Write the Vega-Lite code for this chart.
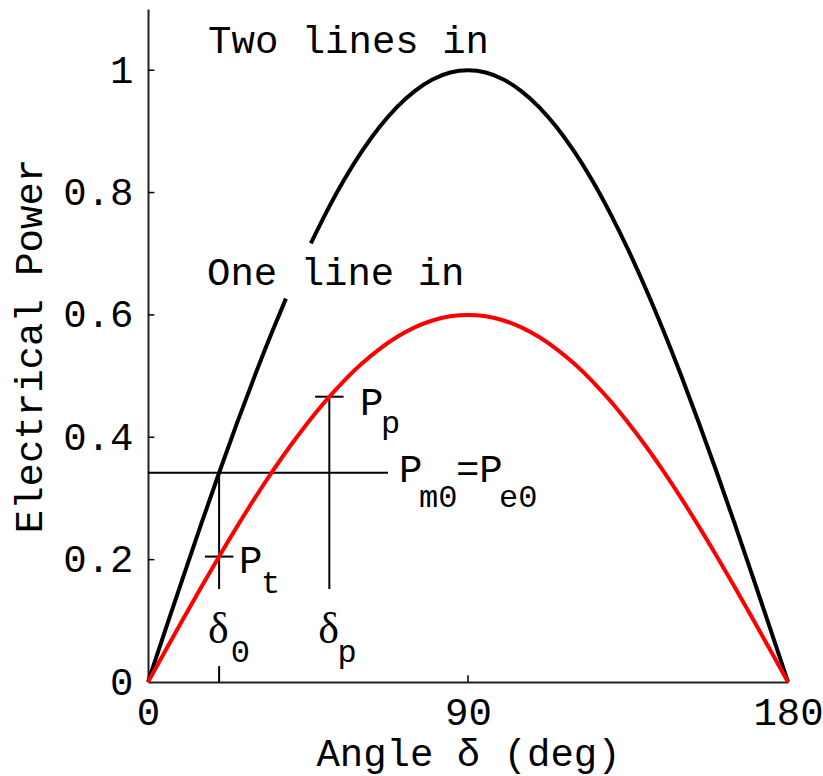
{
  "$schema": "https://vega.github.io/schema/vega-lite/v6.json",
  "width": 640,
  "height": 673,
  "autosize": {"type": "none"},
  "padding": {"left": 148, "top": 9, "right": 35, "bottom": 94},
  "background": "white",
  "config": {
    "view": {"stroke": null},
    "axis": {
      "grid": false,
      "ticks": false,
      "domainColor": "#222222",
      "domainWidth": 2,
      "labelFont": "Liberation Mono",
      "labelFontSize": 39,
      "labelColor": "black",
      "labelFlush": false,
      "titleFont": "Liberation Mono",
      "titleFontSize": 39,
      "titleFontWeight": "normal",
      "titleColor": "black"
    }
  },
  "datasets": {
    "curves": [
      {"d": 0, "p": 0, "curve": "two", "seg": "a"},
      {"d": 5, "p": 0.0872, "curve": "two", "seg": "a"},
      {"d": 10, "p": 0.1736, "curve": "two", "seg": "a"},
      {"d": 15, "p": 0.2588, "curve": "two", "seg": "a"},
      {"d": 20, "p": 0.342, "curve": "two", "seg": "a"},
      {"d": 25, "p": 0.4226, "curve": "two", "seg": "a"},
      {"d": 30, "p": 0.5, "curve": "two", "seg": "a"},
      {"d": 35, "p": 0.5736, "curve": "two", "seg": "a"},
      {"d": 38.8, "p": 0.6266, "curve": "two", "seg": "a"},
      {"d": 45.8, "p": 0.7169, "curve": "two", "seg": "b"},
      {"d": 50, "p": 0.766, "curve": "two", "seg": "b"},
      {"d": 55, "p": 0.8192, "curve": "two", "seg": "b"},
      {"d": 60, "p": 0.866, "curve": "two", "seg": "b"},
      {"d": 65, "p": 0.9063, "curve": "two", "seg": "b"},
      {"d": 70, "p": 0.9397, "curve": "two", "seg": "b"},
      {"d": 75, "p": 0.9659, "curve": "two", "seg": "b"},
      {"d": 80, "p": 0.9848, "curve": "two", "seg": "b"},
      {"d": 85, "p": 0.9962, "curve": "two", "seg": "b"},
      {"d": 90, "p": 1, "curve": "two", "seg": "b"},
      {"d": 95, "p": 0.9962, "curve": "two", "seg": "b"},
      {"d": 100, "p": 0.9848, "curve": "two", "seg": "b"},
      {"d": 105, "p": 0.9659, "curve": "two", "seg": "b"},
      {"d": 110, "p": 0.9397, "curve": "two", "seg": "b"},
      {"d": 115, "p": 0.9063, "curve": "two", "seg": "b"},
      {"d": 120, "p": 0.866, "curve": "two", "seg": "b"},
      {"d": 125, "p": 0.8192, "curve": "two", "seg": "b"},
      {"d": 130, "p": 0.766, "curve": "two", "seg": "b"},
      {"d": 135, "p": 0.7071, "curve": "two", "seg": "b"},
      {"d": 140, "p": 0.6428, "curve": "two", "seg": "b"},
      {"d": 145, "p": 0.5736, "curve": "two", "seg": "b"},
      {"d": 150, "p": 0.5, "curve": "two", "seg": "b"},
      {"d": 155, "p": 0.4226, "curve": "two", "seg": "b"},
      {"d": 160, "p": 0.342, "curve": "two", "seg": "b"},
      {"d": 165, "p": 0.2588, "curve": "two", "seg": "b"},
      {"d": 170, "p": 0.1736, "curve": "two", "seg": "b"},
      {"d": 175, "p": 0.0872, "curve": "two", "seg": "b"},
      {"d": 180, "p": 0, "curve": "two", "seg": "b"},
      {"d": 0, "p": 0, "curve": "one", "seg": "c"},
      {"d": 5, "p": 0.0523, "curve": "one", "seg": "c"},
      {"d": 10, "p": 0.1042, "curve": "one", "seg": "c"},
      {"d": 15, "p": 0.1553, "curve": "one", "seg": "c"},
      {"d": 20, "p": 0.2052, "curve": "one", "seg": "c"},
      {"d": 25, "p": 0.2536, "curve": "one", "seg": "c"},
      {"d": 30, "p": 0.3, "curve": "one", "seg": "c"},
      {"d": 35, "p": 0.3441, "curve": "one", "seg": "c"},
      {"d": 40, "p": 0.3857, "curve": "one", "seg": "c"},
      {"d": 45, "p": 0.4243, "curve": "one", "seg": "c"},
      {"d": 50, "p": 0.4596, "curve": "one", "seg": "c"},
      {"d": 55, "p": 0.4915, "curve": "one", "seg": "c"},
      {"d": 60, "p": 0.5196, "curve": "one", "seg": "c"},
      {"d": 65, "p": 0.5438, "curve": "one", "seg": "c"},
      {"d": 70, "p": 0.5638, "curve": "one", "seg": "c"},
      {"d": 75, "p": 0.5796, "curve": "one", "seg": "c"},
      {"d": 80, "p": 0.5909, "curve": "one", "seg": "c"},
      {"d": 85, "p": 0.5977, "curve": "one", "seg": "c"},
      {"d": 90, "p": 0.6, "curve": "one", "seg": "c"},
      {"d": 95, "p": 0.5977, "curve": "one", "seg": "c"},
      {"d": 100, "p": 0.5909, "curve": "one", "seg": "c"},
      {"d": 105, "p": 0.5796, "curve": "one", "seg": "c"},
      {"d": 110, "p": 0.5638, "curve": "one", "seg": "c"},
      {"d": 115, "p": 0.5438, "curve": "one", "seg": "c"},
      {"d": 120, "p": 0.5196, "curve": "one", "seg": "c"},
      {"d": 125, "p": 0.4915, "curve": "one", "seg": "c"},
      {"d": 130, "p": 0.4596, "curve": "one", "seg": "c"},
      {"d": 135, "p": 0.4243, "curve": "one", "seg": "c"},
      {"d": 140, "p": 0.3857, "curve": "one", "seg": "c"},
      {"d": 145, "p": 0.3441, "curve": "one", "seg": "c"},
      {"d": 150, "p": 0.3, "curve": "one", "seg": "c"},
      {"d": 155, "p": 0.2536, "curve": "one", "seg": "c"},
      {"d": 160, "p": 0.2052, "curve": "one", "seg": "c"},
      {"d": 165, "p": 0.1553, "curve": "one", "seg": "c"},
      {"d": 170, "p": 0.1042, "curve": "one", "seg": "c"},
      {"d": 175, "p": 0.0523, "curve": "one", "seg": "c"},
      {"d": 180, "p": 0, "curve": "one", "seg": "c"}
    ],
    "guides": [
      {"x1": 0, "x2": 67.5, "y1": 0.342, "y2": 0.342, "w": 2},
      {"x1": 20, "x2": 20, "y1": 0.152, "y2": 0.342, "w": 2},
      {"x1": 16, "x2": 24, "y1": 0.205, "y2": 0.205, "w": 2},
      {"x1": 20, "x2": 20, "y1": 0, "y2": 0.026, "w": 2},
      {"x1": 51, "x2": 51, "y1": 0.152, "y2": 0.4663, "w": 2},
      {"x1": 47, "x2": 55, "y1": 0.4663, "y2": 0.4663, "w": 2},
      {"x1": 90, "x2": 90, "y1": 0, "y2": 0.011, "w": 1.5},
      {"x1": 0, "x2": 1.8, "y1": 0.2, "y2": 0.2, "w": 1.5},
      {"x1": 0, "x2": 1.8, "y1": 0.4, "y2": 0.4, "w": 1.5},
      {"x1": 0, "x2": 1.8, "y1": 0.6, "y2": 0.6, "w": 1.5},
      {"x1": 0, "x2": 1.8, "y1": 0.8, "y2": 0.8, "w": 1.5},
      {"x1": 0, "x2": 1.8, "y1": 1, "y2": 1, "w": 1.5}
    ],
    "monoText": [
      {"text": "Two lines in", "x": 16.9, "y": 1.028, "size": 39},
      {"text": "One line in", "x": 16.6, "y": 0.649, "size": 39},
      {"text": "P", "x": 59.6, "y": 0.436, "size": 39},
      {"text": "p", "x": 65.5, "y": 0.407, "size": 32},
      {"text": "P", "x": 25.6, "y": 0.178, "size": 39},
      {"text": "t", "x": 31.8, "y": 0.145, "size": 32},
      {"text": "P", "x": 70.6, "y": 0.327, "size": 39},
      {"text": "m0", "x": 76.2, "y": 0.286, "size": 32},
      {"text": "=P", "x": 86.6, "y": 0.327, "size": 39},
      {"text": "e0", "x": 98.7, "y": 0.286, "size": 32},
      {"text": "0", "x": 23.3, "y": 0.033, "size": 32},
      {"text": "p", "x": 53.3, "y": 0.033, "size": 32}
    ],
    "greekText": [
      {"text": "δ", "x": 16.9, "y": 0.064, "size": 44},
      {"text": "δ", "x": 47.9, "y": 0.064, "size": 44}
    ]
  },
  "layer": [
    {
      "data": {"name": "guides"},
      "mark": {"type": "rule", "color": "black"},
      "encoding": {
        "x": {"field": "x1", "type": "quantitative", "scale": {"domain": [0, 180], "nice": false},
          "axis": {"values": [0, 90, 180], "labelPadding": 11, "title": "Angle δ (deg)", "titleY": 83, "titleBaseline": "alphabetic"}},
        "x2": {"field": "x2"},
        "y": {"field": "y1", "type": "quantitative", "scale": {"domain": [0, 1.1], "nice": false},
          "axis": {"values": [0, 0.2, 0.4, 0.6, 0.8, 1], "format": "~g", "labelPadding": 15, "title": "Electrical Power", "titleX": -107, "titleBaseline": "alphabetic"}},
        "y2": {"field": "y2"},
        "strokeWidth": {"field": "w", "type": "quantitative", "scale": null}
      }
    },
    {
      "data": {"name": "curves"},
      "mark": {"type": "line", "strokeWidth": 4, "interpolate": "monotone"},
      "encoding": {
        "x": {"field": "d", "type": "quantitative"},
        "y": {"field": "p", "type": "quantitative"},
        "detail": {"field": "seg"},
        "color": {"field": "curve", "type": "nominal", "scale": {"domain": ["two", "one"], "range": ["black", "#ff0000"]}, "legend": null}
      }
    },
    {
      "data": {"name": "monoText"},
      "mark": {"type": "text", "font": "Liberation Mono", "align": "left", "baseline": "alphabetic", "color": "black"},
      "encoding": {
        "x": {"field": "x", "type": "quantitative"},
        "y": {"field": "y", "type": "quantitative"},
        "text": {"field": "text"},
        "size": {"field": "size", "type": "quantitative", "scale": null}
      }
    },
    {
      "data": {"name": "greekText"},
      "mark": {"type": "text", "font": "Liberation Serif", "align": "left", "baseline": "alphabetic", "color": "black"},
      "encoding": {
        "x": {"field": "x", "type": "quantitative"},
        "y": {"field": "y", "type": "quantitative"},
        "text": {"field": "text"},
        "size": {"field": "size", "type": "quantitative", "scale": null}
      }
    }
  ]
}
